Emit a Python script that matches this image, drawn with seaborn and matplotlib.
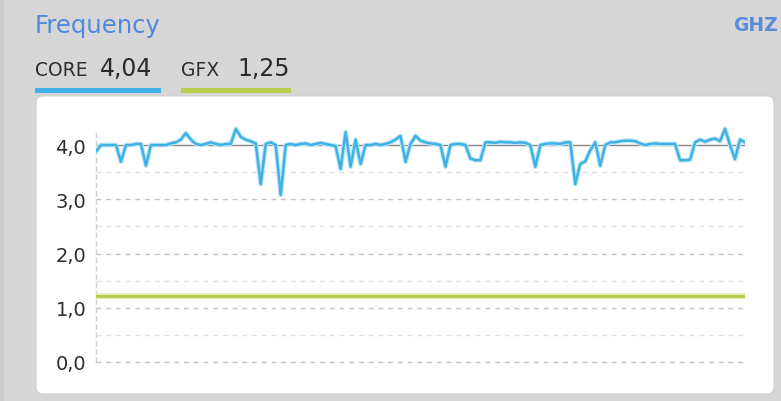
import numpy as np
import pandas as pd
import seaborn as sns
import matplotlib.pyplot as plt
from matplotlib.patches import FancyBboxPatch, Rectangle

# core clock samples (GHz), one every tick
core = [3.88, 4.00, 4.00, 4.00, 4.00, 3.69, 4.00, 4.00, 4.02, 4.02,
        3.62, 4.00, 4.00, 4.00, 4.00, 4.03, 4.05, 4.10, 4.22, 4.10,
        4.02, 4.00, 4.02, 4.05, 4.02, 4.00, 4.02, 4.02, 4.30, 4.15,
        4.10, 4.07, 4.03, 3.28, 4.02, 4.05, 4.00, 3.08, 4.00, 4.02,
        4.00, 4.02, 4.03, 4.00, 4.02, 4.04, 4.02, 4.00, 3.98, 3.56,
        4.24, 3.60, 4.10, 3.65, 4.00, 4.00, 4.02, 4.00, 4.02, 4.05,
        4.10, 4.17, 3.69, 4.02, 4.17, 4.08, 4.05, 4.03, 4.02, 4.00,
        3.60, 4.00, 4.02, 4.02, 4.00, 3.75, 3.72, 3.72, 4.05, 4.05,
        4.04, 4.06, 4.05, 4.05, 4.04, 4.05, 4.04, 4.00, 3.60, 4.00,
        4.02, 4.03, 4.03, 4.02, 4.05, 4.05, 3.28, 3.65, 3.70, 3.90,
        4.05, 3.62, 4.00, 4.05, 4.05, 4.07, 4.08, 4.08, 4.07, 4.03,
        4.00, 4.02, 4.03, 4.02, 4.02, 4.02, 4.02, 3.72, 3.72, 3.73,
        4.05, 4.10, 4.06, 4.10, 4.12, 4.07, 4.30, 4.00, 3.74, 4.10,
        4.05]
# gfx clock is flat over the window
gfx_t = [0, len(core) - 1]
gfx = [1.21, 1.21]
core_avg = 4.0

core_now = "4,04"
gfx_now = "1,25"
yticks = [0.0, 1.0, 2.0, 3.0, 4.0]

W, H = 781, 402
bg = "#d6d6d6"
blue = "#3eb2e4"
green = "#b7cd4c"

sns.set_style("white")
plt.rcParams['font.family'] = ['DejaVu Sans']

fig = plt.figure(figsize=(W / 100, H / 100), dpi=100)
fig.patch.set_facecolor(bg)

# overlay in pixel units for the card, header texts and underline bars
over = fig.add_axes([0, 0, 1, 1], zorder=0)
over.set_xlim(0, W)
over.set_ylim(H, 0)
over.axis("off")
over.add_patch(FancyBboxPatch((36, 97), 738, 298,
                              boxstyle="round,pad=0,rounding_size=7",
                              fc="white", ec="#cfcfcf", lw=0.8))
over.add_patch(Rectangle((0, 0), 4, H, fc="#cacaca", ec="none"))
over.text(35, 33, "Frequency", fontsize=17.5, color="#4f88df", va="baseline")
over.text(778, 31, "GHZ", fontsize=13.5, color="#5b8bd8", fontweight="bold",
          ha="right", va="baseline")
over.text(35, 76, "CORE", fontsize=13.5, color="#2e2e2e", va="baseline")
over.text(100, 76, core_now, fontsize=17, color="#2a2a2a", va="baseline")
over.text(181, 76, "GFX", fontsize=13.5, color="#2e2e2e", va="baseline")
over.text(237, 76, gfx_now, fontsize=17, color="#2a2a2a", va="baseline")
over.add_patch(Rectangle((35, 89), 126, 5, fc=blue, ec="none"))
over.add_patch(Rectangle((181, 89), 110, 5, fc=green, ec="none"))

# the chart itself
ax = fig.add_axes([96 / W, (H - 363) / H, 649 / W, (363 - 120) / H], zorder=1)
ax.patch.set_alpha(0)
n = len(core)
ax.set_xlim(0, n - 1)
ax.set_ylim(0, 4.48)

for y in np.arange(0, 4.0, 0.5):
    major = float(y).is_integer()
    ax.axhline(y, color="#c2c2c2" if major else "#e0e0e0", lw=1,
               ls=(0, (3.5, 3.5)), zorder=1, clip_on=False)
ax.axhline(core_avg, color="#858585", lw=1, zorder=2)

df_core = pd.DataFrame({"t": np.arange(n), "ghz": core})
df_gfx = pd.DataFrame({"t": gfx_t, "ghz": gfx})
sns.lineplot(data=df_gfx, x="t", y="ghz", ax=ax, color="#e6efc2", lw=4.5, zorder=3)
sns.lineplot(data=df_gfx, x="t", y="ghz", ax=ax, color=green, lw=2.3, zorder=4)
sns.lineplot(data=df_core, x="t", y="ghz", ax=ax, color="#bfe5f6", lw=3.4, zorder=5)
sns.lineplot(data=df_core, x="t", y="ghz", ax=ax, color=blue, lw=1.8, zorder=6)

ax.set_yticks(yticks)
ax.set_yticklabels([f"{v:.1f}".replace(".", ",") for v in yticks])
ax.set_xticks([])
ax.set_xlabel("")
ax.set_ylabel("")
ax.tick_params(axis="y", length=0, pad=7, labelsize=14, labelcolor="#2e2e2e")
for s in ["top", "right", "bottom"]:
    ax.spines[s].set_visible(False)
ax.spines["left"].set_color("#cfcfcf")
ax.spines["left"].set_linestyle((0, (3, 3)))
ax.spines["left"].set_linewidth(1)
ax.spines["left"].set_bounds(0, 4.3)

fig.savefig("out.png", dpi=100, facecolor=bg)
